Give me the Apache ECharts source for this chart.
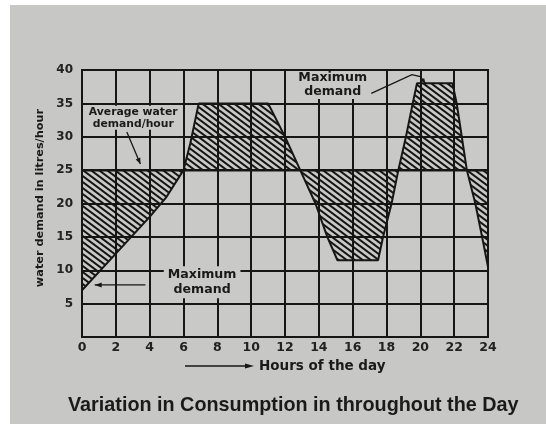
<!DOCTYPE html>
<html><head><meta charset="utf-8">
<script src="https://cdn.jsdelivr.net/npm/echarts@6/dist/echarts.min.js"></script>
<style>
html,body{margin:0;padding:0;background:#ffffff;}
#paper{position:absolute;left:10px;top:5px;width:536px;height:419px;background:#c7c7c5;}
#c{position:absolute;left:0;top:0;width:546px;height:424px;}
</style>
</head><body><div id="paper"></div><div id="c"></div>
<script>
// ---- data ----
const hours  = [0, 2, 4, 5, 6, 6.4, 6.9, 11, 12, 12.9, 13.8, 14.5, 15.1, 17.5, 17.8, 18.3, 18.7, 19.15, 19.55, 19.8, 21.9, 22.15, 22.45, 22.75, 23.25, 23.65, 24];
const demand = [7, 12.5, 18, 21, 25, 29, 35, 35, 30, 25, 20, 15, 11.5, 11.5, 15, 20, 25, 30, 35, 38, 38, 35, 30, 25, 20, 15, 10.5];
const averageDemand = 25;
const xTickLabels = ['0','2','4','6','8','10','12','14','16','18','20','22','24'];
const yTickLabels = ['','5','10','15','20','25','30','35','40'];

const demandPoints = hours.map((h, i) => [h, demand[i]]);
const averagePoints = [[0, averageDemand], [24, averageDemand]];

// hatch pattern (lines running down to the right)
function hatch() {
  const w = 8, h = 6, cv = document.createElement('canvas');
  cv.width = w; cv.height = h;
  const ctx = cv.getContext('2d');
  ctx.strokeStyle = '#151515'; ctx.lineWidth = 2;
  for (let k = -1; k <= 1; k++) {
    ctx.beginPath();
    ctx.moveTo(k * w - w, -h);
    ctx.lineTo(k * w + 2 * w, 2 * h);
    ctx.stroke();
  }
  return cv;
}

const ink = '#161616';
const paper = '#c9c9c7';
const FONT = 'DejaVu Sans';
const chart = echarts.init(document.getElementById('c'), null, {renderer: 'canvas'});
chart.setOption({
  backgroundColor: 'transparent',
  animation: false,
  grid: {left: 82, right: 58, top: 70, bottom: 87, show: true, borderColor: ink, borderWidth: 2, backgroundColor: paper},
  xAxis: {
    type: 'value', min: 0, max: 24, interval: 2,
    axisLine: {show: true, lineStyle: {color: ink, width: 2}},
    axisTick: {show: false},
    splitLine: {show: true, lineStyle: {color: ink, width: 2}},
    axisLabel: {color: '#222', fontSize: 12.5, fontWeight: 'bold', fontFamily: FONT, margin: 4,
      formatter: v => xTickLabels[Math.round(v / 2)]}
  },
  yAxis: {
    type: 'value', min: 0, max: 40, interval: 5,
    axisLine: {show: true, lineStyle: {color: ink, width: 2}},
    axisTick: {show: false},
    splitLine: {show: true, lineStyle: {color: ink, width: 2}},
    axisLabel: {color: '#222', fontSize: 12, fontWeight: 'bold', fontFamily: FONT, margin: 9,
      formatter: v => yTickLabels[Math.round(v / 5)]}
  },
  title: {
    text: 'Variation in Consumption in throughout the Day', left: 63, top: 391,
    textStyle: {color: '#1a1a1a', fontSize: 19.8, fontWeight: 'bold', fontFamily: 'Liberation Sans'}
  },
  series: [
    {
      type: 'line', data: demandPoints, symbol: 'none', z: 3,
      lineStyle: {color: ink, width: 2},
      areaStyle: {origin: averageDemand, color: {image: hatch(), repetition: 'repeat'}, opacity: 1}
    },
    {
      type: 'line', data: averagePoints, symbol: 'none', z: 4,
      lineStyle: {color: ink, width: 2.5}
    }
  ]
});

// annotations anchored in data space
const P = (h, v) => chart.convertToPixel({gridIndex: 0}, [h, v]);
function arrowHead(from, to, len, wid) {
  const dx = to[0] - from[0], dy = to[1] - from[1], d = Math.hypot(dx, dy);
  const ux = dx / d, uy = dy / d;
  const bx = to[0] - ux * len, by = to[1] - uy * len;
  return {type: 'polygon', shape: {points: [to, [bx - uy * wid, by + ux * wid], [bx + uy * wid, by - ux * wid]]}, style: {fill: ink}, z: 10};
}
const annStyle = {fill: '#1a1a1a', fontSize: 10.8, fontWeight: 'bold', fontFamily: FONT, align: 'center', verticalAlign: 'middle', lineHeight: 12,
  backgroundColor: paper, padding: [0, 3]};
const ann2Style = Object.assign({}, annStyle, {fontSize: 12.6, lineHeight: 15, padding: [1, 4]});
const ann3Style = Object.assign({}, ann2Style, {lineHeight: 14, padding: [0, 4]});

const avgT = P(3.03, 32.85), avgA0 = P(2.65, 30.7), avgA1 = P(3.45, 25.9);
const maxT = P(7.1, 8.2), maxA0 = P(3.75, 7.8), maxA1 = P(0.75, 7.8);
const topT = P(14.82, 37.75);
const topPts = [P(17.1, 36.5), P(19.5, 39.3), P(20.0, 39.0), P(20.3, 38.0)];
const yName = [40, 198];

chart.setOption({
  graphic: [
    {type: 'text', x: avgT[0], y: avgT[1], z: 10, style: Object.assign({text: 'Average water\ndemand/hour'}, annStyle)},
    {type: 'line', shape: {x1: avgA0[0], y1: avgA0[1], x2: avgA1[0], y2: avgA1[1]}, style: {stroke: ink, lineWidth: 1.3}, z: 10},
    arrowHead(avgA0, avgA1, 6, 2.5),
    {type: 'text', x: maxT[0], y: maxT[1], z: 10, style: Object.assign({text: 'Maximum\ndemand'}, ann2Style)},
    {type: 'line', shape: {x1: maxA0[0], y1: maxA0[1], x2: maxA1[0], y2: maxA1[1]}, style: {stroke: ink, lineWidth: 1.3}, z: 10},
    arrowHead(maxA0, maxA1, 7, 2.5),
    {type: 'text', x: topT[0], y: topT[1], z: 10, style: Object.assign({text: 'Maximum\ndemand'}, ann3Style)},
    {type: 'polyline', shape: {points: topPts}, style: {stroke: ink, lineWidth: 1.3, fill: null}, z: 10},
    arrowHead(topPts[2], topPts[3], 5, 2.2),
    // y axis name
    {type: 'text', x: yName[0], y: yName[1], rotation: Math.PI / 2, z: 10,
      style: {text: 'water demand in litres/hour', fill: '#1a1a1a', fontSize: 11.3, fontWeight: 'bold', fontFamily: FONT, align: 'center', verticalAlign: 'middle'}},
    // x axis name with arrow
    {type: 'line', shape: {x1: 185, y1: 366, x2: 248, y2: 366}, style: {stroke: ink, lineWidth: 1.3}, z: 10},
    arrowHead([235, 366], [254, 366], 9, 2.5),
    {type: 'text', x: 259, y: 366, z: 10, style: {text: 'Hours of the day', fill: '#1a1a1a', fontSize: 13.5, fontWeight: 'bold', fontFamily: FONT, verticalAlign: 'middle'}}
  ]
});
</script>
</body></html>
